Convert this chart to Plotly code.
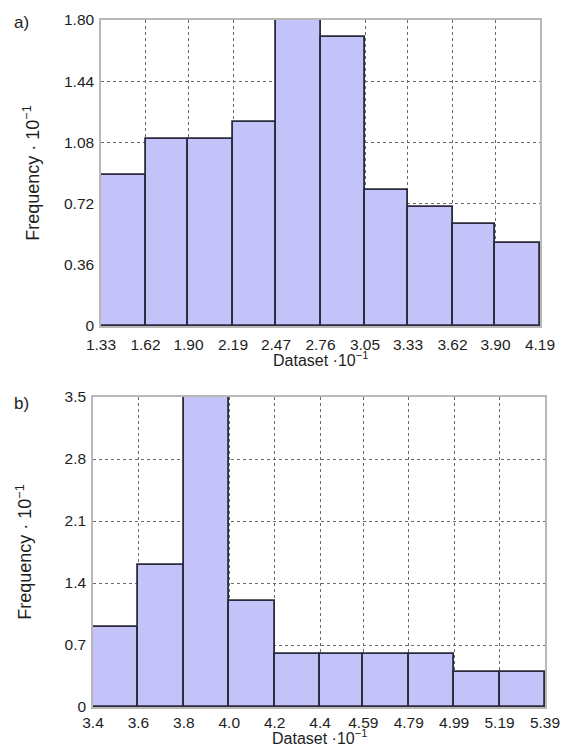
import plotly.graph_objects as go

# Panel a
edges_a = [1.33, 1.62, 1.90, 2.19, 2.47, 2.76, 3.05, 3.33, 3.62, 3.90, 4.19]
edge_labels_a = ["1.33", "1.62", "1.90", "2.19", "2.47", "2.76", "3.05", "3.33", "3.62", "3.90", "4.19"]
freq_a = [0.89, 1.10, 1.10, 1.20, 1.80, 1.70, 0.80, 0.70, 0.60, 0.49]
yticks_a = [0, 0.36, 0.72, 1.08, 1.44, 1.80]
yticklabels_a = ["0", "0.36", "0.72", "1.08", "1.44", "1.80"]

# Panel b
edges_b = [3.4, 3.6, 3.8, 4.0, 4.2, 4.4, 4.59, 4.79, 4.99, 5.19, 5.39]
edge_labels_b = ["3.4", "3.6", "3.8", "4.0", "4.2", "4.4", "4.59", "4.79", "4.99", "5.19", "5.39"]
freq_b = [0.90, 1.60, 3.50, 1.20, 0.60, 0.60, 0.60, 0.60, 0.40, 0.40]
yticks_b = [0, 0.7, 1.4, 2.1, 2.8, 3.5]
yticklabels_b = ["0", "0.7", "1.4", "2.1", "2.8", "3.5"]

x_title = "Dataset ·10<sup>−1</sup>"
y_title = "Frequency · 10<sup>−1</sup>"

FONT = "Liberation Sans, Arial, sans-serif"
BAR_FILL = "#c3c3fa"
BAR_LINE = "#2b2b3d"
GRID = "#6a6a6a"
FRAME = "#b8b8b8"
TXT = "#1e1e1e"
FS = 15.5
FS_XT = 16
FS_YT = 18

W, H = 563, 747


def mids(e):
    return [(e[i] + e[i + 1]) / 2 for i in range(len(e) - 1)]


def widths(e):
    return [e[i + 1] - e[i] for i in range(len(e) - 1)]


fig = go.Figure()
fig.add_trace(go.Bar(x=mids(edges_a), y=freq_a, width=widths(edges_a),
                     marker=dict(color=BAR_FILL, line=dict(color=BAR_LINE, width=1.8)),
                     xaxis="x", yaxis="y", showlegend=False, hoverinfo="x+y"))
fig.add_trace(go.Bar(x=mids(edges_b), y=freq_b, width=widths(edges_b),
                     marker=dict(color=BAR_FILL, line=dict(color=BAR_LINE, width=1.8)),
                     xaxis="x2", yaxis="y2", showlegend=False, hoverinfo="x+y"))

common = dict(showgrid=True, gridcolor=GRID, griddash="dot", gridwidth=1,
              showline=True, linecolor=FRAME, linewidth=1.5, mirror=True,
              tickcolor="rgba(0,0,0,0)", ticks="outside",
              tickfont=dict(size=FS, color=TXT, family=FONT), zeroline=False,
              automargin=False)

xa_dom = [101 / W, 540 / W]
xb_dom = [93 / W, 545 / W]
ya_dom = [1 - 326 / H, 1 - 20 / H]
yb_dom = [1 - 707 / H, 1 - 397 / H]

fig.update_layout(
    width=W, height=H,
    margin=dict(l=0, r=0, t=0, b=0),
    paper_bgcolor="white", plot_bgcolor="white",
    font=dict(family=FONT, size=FS, color=TXT),
    bargap=0,
    xaxis=dict(domain=xa_dom, anchor="y", range=[edges_a[0], edges_a[-1]],
               tickvals=edges_a, ticktext=edge_labels_a, ticklen=4, **common),
    yaxis=dict(domain=ya_dom, anchor="x", range=[0, 1.8],
               tickvals=yticks_a, ticktext=yticklabels_a, ticklen=2,
               title=dict(text=y_title, standoff=20,
                          font=dict(size=FS_YT, color=TXT)),
               **common),
    xaxis2=dict(domain=xb_dom, anchor="y2", range=[edges_b[0], edges_b[-1]],
                tickvals=edges_b, ticktext=edge_labels_b, ticklen=1, **common),
    yaxis2=dict(domain=yb_dom, anchor="x2", range=[0, 3.5],
                tickvals=yticks_b, ticktext=yticklabels_b, ticklen=2,
                title=dict(text=y_title, standoff=28,
                           font=dict(size=FS_YT, color=TXT)),
                **common),
    annotations=[
        dict(text=x_title, x=(xa_dom[0] + xa_dom[1]) / 2, y=1 - 359 / H,
             xref="paper", yref="paper", xanchor="center", yanchor="middle",
             showarrow=False, font=dict(size=FS_XT, color=TXT, family=FONT)),
        dict(text=x_title, x=(xb_dom[0] + xb_dom[1]) / 2, y=1 - 737 / H,
             xref="paper", yref="paper", xanchor="center", yanchor="middle",
             showarrow=False, font=dict(size=FS_XT, color=TXT, family=FONT)),
        dict(text="a)", x=12 / W, y=1 - 22 / H, xref="paper", yref="paper",
             xanchor="left", yanchor="middle", showarrow=False,
             font=dict(size=17, color=TXT, family=FONT)),
        dict(text="b)", x=12 / W, y=1 - 403 / H, xref="paper", yref="paper",
             xanchor="left", yanchor="middle", showarrow=False,
             font=dict(size=17, color=TXT, family=FONT)),
    ],
)

fig.write_html("out.html", config={"displayModeBar": False},
               post_script="document.body.style.margin='0px';")
